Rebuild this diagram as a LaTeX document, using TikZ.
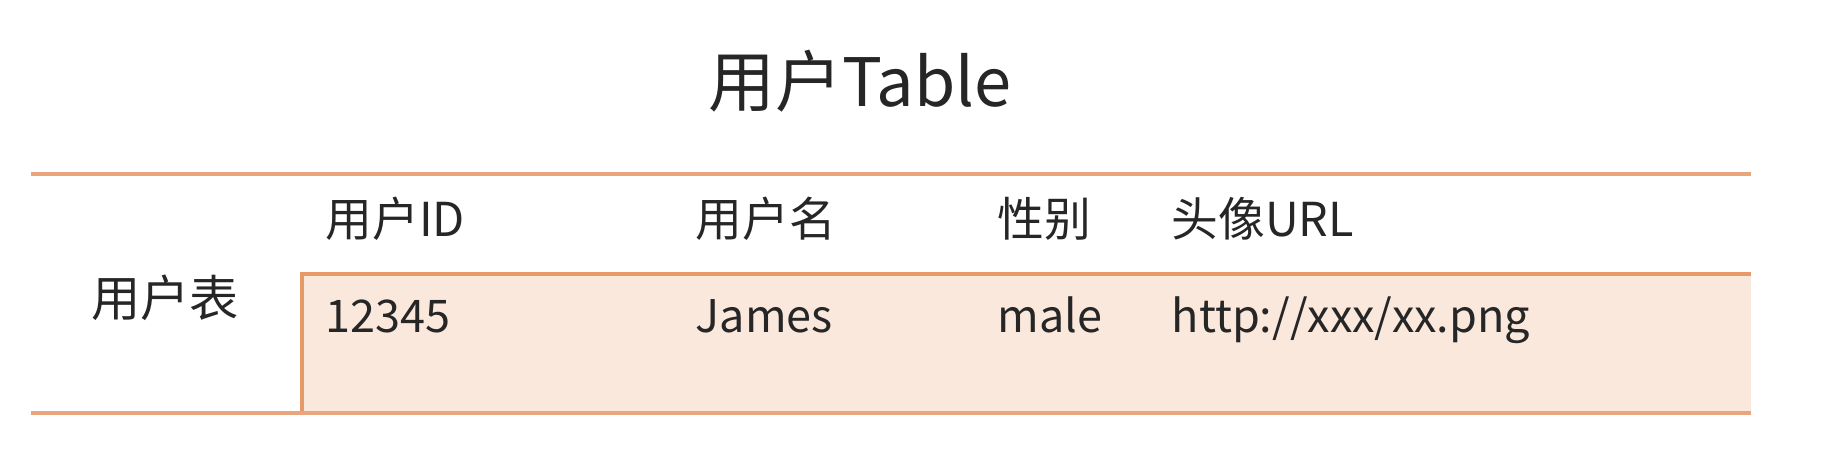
\documentclass[tikz,border=0pt]{standalone}
\usepackage{fontspec}
\setmainfont{Noto Sans CJK SC}
\definecolor{rule}{HTML}{E9A67C}
\definecolor{cellfill}{HTML}{FBE8DC}
\definecolor{celledge}{HTML}{E59A68}
\begin{document}
\begin{tikzpicture}[
    title/.style={anchor=base, font=\fontsize{19}{22}\selectfont, text=black!85},
    head/.style={anchor=base west, font=\fontsize{13.3}{16}\selectfont, text=black!85, inner sep=0pt},
    cell/.style={anchor=base west, font=\fontsize{12.8}{15}\selectfont, text=black!85, inner sep=0pt},
    rule/.style={draw=rule, line width=1pt},
    edge/.style={draw=celledge, line width=1.1pt},
]
\useasboundingbox (0,0) rectangle (18.22,-4.60);

\node[title] (title) at (8.60,-1.07) {用户Table};

% table rules
\coordinate (tl) at (0.31,-1.74);
\coordinate (tr) at (17.51,-1.74);
\coordinate (bl) at (0.31,-4.13);
\coordinate (br) at (17.51,-4.13);

% data row
\coordinate (rowtl) at (3.02,-2.74);
\coordinate (rowtr) at (17.51,-2.74);
\coordinate (rowbl) at (3.02,-4.13);
\fill[cellfill] (rowtl) rectangle (br);
\draw[edge] (rowbl) -- (rowtl) -- (rowtr);

\draw[rule] (tl) -- (tr);
\draw[rule] (bl) -- (br);

\node[head] (hid) at (3.25,-2.37) {用户ID};
\node[head] (hname) at (6.95,-2.37) {用户名};
\node[head] (hsex) at (9.97,-2.37) {性别};
\node[head] (hurl) at (11.71,-2.37) {头像URL};

\node[cell] (cid) at (3.25,-3.33) {12345};
\node[cell] (cname) at (6.95,-3.33) {James};
\node[cell] (csex) at (9.97,-3.33) {male};
\node[cell] (curl) at (11.71,-3.33) {http://xxx/xx.png};

\node[font=\fontsize{14}{17}\selectfont, text=black!85] (tabname) at (1.65,-2.98) {用户表};

\end{tikzpicture}
\end{document}
